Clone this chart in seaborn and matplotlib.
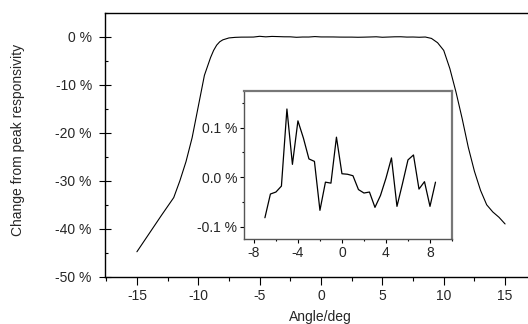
import numpy as np
import pandas as pd
import seaborn as sns
import matplotlib.pyplot as plt
from matplotlib.ticker import MultipleLocator, FixedLocator

# inset: small variation across the flat top (percent)
inset_angle = [-7.0, -6.5, -6.0, -5.5, -5.0, -4.5, -4.0, -3.5, -3.0, -2.5,
               -2.0, -1.5, -1.0, -0.5, 0.0, 0.5, 1.0, 1.5, 2.0, 2.5,
               3.0, 3.5, 4.0, 4.5, 5.0, 5.5, 6.0, 6.5, 7.0, 7.5, 8.0, 8.5]
inset_change = [-0.082, -0.034, -0.030, -0.018, 0.138, 0.026, 0.114, 0.079,
                0.037, 0.032, -0.067, -0.010, -0.012, 0.081, 0.007, 0.006,
                0.003, -0.025, -0.032, -0.030, -0.061, -0.037, -0.002, 0.039,
                -0.059, -0.013, 0.035, 0.045, -0.024, -0.009, -0.059, -0.010]

# wings of the main curve (percent)
left_angle = [-15.0, -14.0, -13.0, -12.0, -11.5, -11.0, -10.5, -10.0, -9.5,
              -9.0, -8.75, -8.5, -8.25, -8.0, -7.5]
left_change = [-44.8, -41.0, -37.2, -33.5, -30.0, -26.0, -21.0, -14.5, -8.0,
               -4.3, -2.8, -1.7, -1.0, -0.6, -0.2]
right_angle = [9.0, 9.5, 10.0, 10.5, 11.0, 11.5, 12.0, 12.5, 13.0, 13.5,
               14.0, 14.5, 15.0]
right_change = [-0.3, -1.2, -2.8, -6.6, -11.5, -17.0, -23.0, -28.0, -32.0,
                -35.0, -36.5, -37.6, -39.0]

main = pd.DataFrame({
    'angle': left_angle + inset_angle + right_angle,
    'change': left_change + inset_change + right_change})
inset = pd.DataFrame({'angle': inset_angle, 'change': inset_change})

sns.set_style('ticks')
plt.rcParams['font.family'] = ['Liberation Sans', 'DejaVu Sans']
plt.rcParams['font.size'] = 10

fig = plt.figure(figsize=(5.28, 3.24), dpi=100)
W, H = 528, 324
ax = fig.add_axes([105 / W, 47.3 / H, 432 / W, 263.7 / H])

sns.lineplot(data=main, x='angle', y='change', ax=ax, color='black',
             linewidth=0.8, sort=False)
ax.set_xlim(-17.6, 17.6)
ax.set_ylim(-50, 5)
ax.spines['right'].set_visible(False)
for s in ['left', 'bottom', 'top']:
    ax.spines[s].set_linewidth(1.0)
    ax.spines[s].set_color('black')

ax.xaxis.set_major_locator(FixedLocator([-15, -10, -5, 0, 5, 10, 15]))
ax.xaxis.set_minor_locator(MultipleLocator(2.5))
ax.yaxis.set_minor_locator(MultipleLocator(5))
ax.set_yticks([0, -10, -20, -30, -40, -50])
ax.set_yticklabels(['0 %', '-10 %', '-20 %', '-30 %', '-40 %', '-50 %'])
ax.set_xticklabels(['-15', '-10', '-5', '0', '5', '10', '15'])
ax.tick_params(axis='x', which='major', direction='out', length=6, width=0.8,
               labelsize=10, pad=3, color='black')
ax.tick_params(axis='x', which='minor', direction='out', length=3, width=0.8,
               color='black')
ax.tick_params(axis='y', which='major', direction='inout', length=9, width=0.8,
               labelsize=10, pad=5, color='black')
ax.tick_params(axis='y', which='minor', direction='in', length=2.5, width=0.8,
               color='black')
ax.tick_params(top=False, right=False, which='both')

ax.set_xlabel('Angle/deg', fontsize=10)
ax.set_ylabel('Change from peak responsivity', fontsize=10)
ax.xaxis.set_label_coords((320 - 105) / 432, (276.7 - 317) / 263.7)
ax.xaxis.label.set_va('center')
ax.yaxis.set_label_coords((18 - 105) / 432, (276.7 - 140) / 263.7)
ax.yaxis.label.set_va('center')

# inset
ins = fig.add_axes([244 / W, 85 / H, 208 / W, 148.3 / H])
sns.lineplot(data=inset, x='angle', y='change', ax=ins, color='black',
             linewidth=0.9, sort=False)
ins.set_xlim(-8.9, 10.0)
ins.set_ylim(-0.125, 0.175)
for s in ['left', 'bottom']:
    ins.spines[s].set_color('#555555')
    ins.spines[s].set_linewidth(1.0)
for s in ['top', 'right']:
    ins.spines[s].set_visible(True)
    ins.spines[s].set_color('#777777')
    ins.spines[s].set_linewidth(1.6)
ins.set_xticks([-8, -4, 0, 4, 8])
ins.set_xticklabels(['-8', '-4', '0', '4', '8'])
ins.xaxis.set_minor_locator(MultipleLocator(2))
ins.set_yticks([0.1, 0.0, -0.1])
ins.set_yticklabels(['0.1 %', '0.0 %', '-0.1 %'])
ins.yaxis.set_minor_locator(FixedLocator([-0.05, 0.05, 0.15]))
ins.tick_params(axis='both', which='major', direction='out', length=3,
                width=0.8, labelsize=10, pad=2, color='black')
ins.tick_params(axis='both', which='minor', direction='out', length=1.5,
                width=0.8, color='black')
ins.tick_params(top=False, right=False, which='both')
ins.set_xlabel('')
ins.set_ylabel('')

fig.savefig('out.png', dpi=100)
